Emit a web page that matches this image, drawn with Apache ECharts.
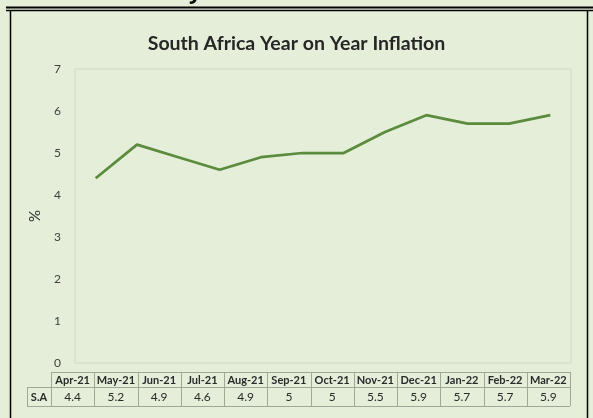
<!DOCTYPE html>
<html>
<head>
<meta charset="utf-8">
<script src="https://cdn.jsdelivr.net/npm/echarts@6/dist/echarts.min.js"></script>
<style>
html,body{margin:0;padding:0;background:#e4eed9;}
#c{width:593px;height:418px;}
</style>
</head>
<body>
<div id="c"></div>
<script>
var categories = ['Apr-21','May-21','Jun-21','Jul-21','Aug-21','Sep-21','Oct-21','Nov-21','Dec-21','Jan-22','Feb-22','Mar-22'];
var seriesName = 'S.A';
var values = [4.4, 5.2, 4.9, 4.6, 4.9, 5, 5, 5.5, 5.9, 5.7, 5.7, 5.9];
var yTicks = [0, 1, 2, 3, 4, 5, 6, 7];
var chartTitle = 'South Africa Year on Year Inflation';
var pageTitle = 'Country Year on Year Inflation';
var yName = '%';

var chart = echarts.init(document.getElementById('c'), null, {renderer: 'canvas'});

// data table layout
var tLeft = 51, tRight = 570, hTop = 372, hBot = 387, dBot = 406, labL = 27;
var colW = (tRight - tLeft) / categories.length;
var bc = '#9ea896';
var g = [];
// clipped page heading
g.push({type:'text', x:280, y:4, style:{text:pageTitle, fill:'#111', font:'bold 22px "Open Sans", sans-serif', textAlign:'center', textVerticalAlign:'bottom'}, z:5});
g.push({type:'rect', shape:{x:0,y:6,width:593,height:6}, style:{fill:'#e4eed9'}, z:6});
// frame
g.push({type:'line', shape:{x1:6,y1:7.5,x2:593,y2:7.5}, style:{stroke:'#000',lineWidth:2}, z:10});
g.push({type:'line', shape:{x1:6,y1:10.5,x2:593,y2:10.5}, style:{stroke:'#000',lineWidth:1.5}, z:10});
g.push({type:'line', shape:{x1:10.5,y1:10,x2:10.5,y2:418}, style:{stroke:'#000',lineWidth:1.5}, z:10});
g.push({type:'line', shape:{x1:587.5,y1:10,x2:587.5,y2:418}, style:{stroke:'#000',lineWidth:1.5}, z:10});
// table lines
g.push({type:'line', shape:{x1:tLeft,y1:hTop+0.5,x2:tRight,y2:hTop+0.5}, style:{stroke:bc,lineWidth:1}});
g.push({type:'line', shape:{x1:labL,y1:hBot+0.5,x2:tRight,y2:hBot+0.5}, style:{stroke:bc,lineWidth:1}});
g.push({type:'line', shape:{x1:labL,y1:dBot+0.5,x2:tRight,y2:dBot+0.5}, style:{stroke:bc,lineWidth:1}});
g.push({type:'line', shape:{x1:labL+0.5,y1:hBot,x2:labL+0.5,y2:dBot}, style:{stroke:bc,lineWidth:1}});
g.push({type:'text', x:(labL+tLeft)/2, y:(hBot+dBot)/2+0.5, style:{text:seriesName, fill:'#2a2a2a', font:'bold 11px Lato, sans-serif', textAlign:'center', textVerticalAlign:'middle'}});
for (var i = 0; i <= categories.length; i++) {
  var x = Math.round(tLeft + i*colW) + 0.5;
  g.push({type:'line', shape:{x1:x,y1:hTop,x2:x,y2:dBot}, style:{stroke:bc,lineWidth:1}});
}
categories.forEach(function(c, i){
  var cx = tLeft + (i+0.5)*colW;
  g.push({type:'text', x:cx, y:(hTop+hBot)/2+0.5, style:{text:c, fill:'#2a2a2a', font:'bold 11px Lato, sans-serif', textAlign:'center', textVerticalAlign:'middle'}});
  g.push({type:'text', x:cx, y:(hBot+dBot)/2+0.5, style:{text:String(values[i]), fill:'#2a2a2a', font:'12px Lato, sans-serif', textAlign:'center', textVerticalAlign:'middle'}});
});

chart.setOption({
  backgroundColor: '#e4eed9',
  animation: false,
  title: {
    text: chartTitle, left: 'center', top: 29,
    textStyle: {fontFamily: 'Lato, sans-serif', fontWeight: 'bold', fontSize: 19.5, color: '#262626'}
  },
  grid: {left: 75, right: 22, top: 69, bottom: 55, show: true, borderColor: '#cfd8c6', borderWidth: 1, backgroundColor: 'transparent'},
  xAxis: {
    type: 'category', data: categories, boundaryGap: true,
    axisLine: {show: false}, axisTick: {show: false}, axisLabel: {show: false}, splitLine: {show: false}
  },
  yAxis: {
    type: 'value', min: yTicks[0], max: yTicks[yTicks.length-1], interval: 1,
    name: yName, nameLocation: 'middle', nameGap: 30, nameRotate: 90,
    nameTextStyle: {fontFamily: 'Lato, sans-serif', fontSize: 15, color: '#333'},
    axisLine: {show: false}, axisTick: {show: false}, splitLine: {show: false},
    axisLabel: {margin: 14, color: '#404040', fontFamily: 'Lato, sans-serif', fontSize: 12}
  },
  series: [{
    name: seriesName, type: 'line', data: values, symbol: 'none',
    lineStyle: {color: '#5b8b3c', width: 2.75}
  }],
  graphic: g
});
</script>
</body>
</html>
